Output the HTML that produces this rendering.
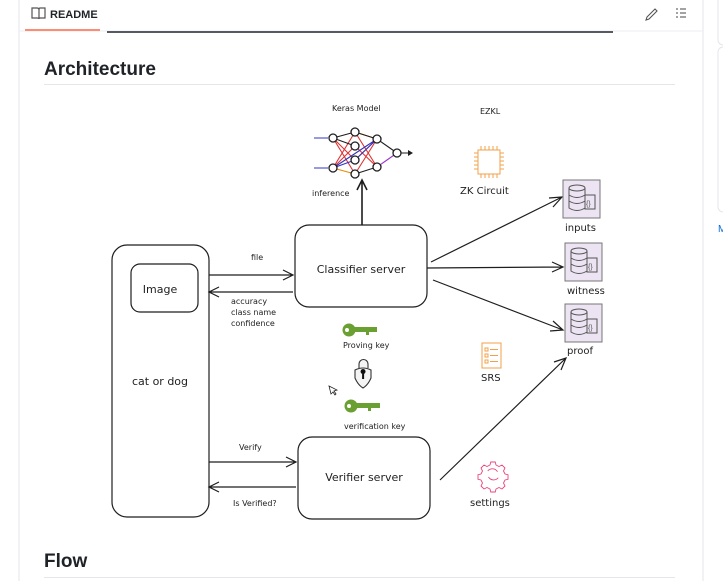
<!DOCTYPE html>
<html><head><style>
html,body{margin:0;padding:0;background:#fff;width:723px;height:581px;overflow:hidden;font-family:"Liberation Sans",sans-serif}
svg{position:absolute;left:0;top:0}
.h{font-family:"Liberation Sans",sans-serif;font-weight:bold;fill:#1f2328}
.s{font-family:"Comic Sans MS","DejaVu Sans",sans-serif;fill:#1e1e1e}
</style></head><body>
<svg width="723" height="581" viewBox="0 0 723 581" xmlns="http://www.w3.org/2000/svg">
<rect x="19" y="-5" width="684" height="600" fill="#fff" stroke="#e4e6ea"/>
<line x1="19" y1="31" x2="703" y2="31" stroke="#eceef2"/>
<line x1="25" y1="30" x2="100" y2="30" stroke="#fd8c73" stroke-width="2"/>
<line x1="107" y1="32" x2="613" y2="32" stroke="#555a63" stroke-width="2"/>
<path d="M32 8h5q2 0 2 2v9q0-1-2-1h-5zM45 8h-5q-1 0-1 2v9q0-1 1-1h5z" fill="none" stroke="#555" stroke-width="1.2"/>
<text x="50" y="18" font-size="11" font-weight="bold" fill="#1f2328">README</text>
<path d="M647 17l8-8 2 2-8 8-3 1z" fill="none" stroke="#555" stroke-width="1.1"/>
<g stroke="#666" stroke-width="1.2"><line x1="676" y1="9" x2="678" y2="9"/><line x1="680" y1="9" x2="686" y2="9"/><line x1="676" y1="13" x2="678" y2="13"/><line x1="680" y1="13" x2="686" y2="13"/><line x1="676" y1="17" x2="678" y2="17"/><line x1="680" y1="17" x2="686" y2="17"/></g>
<rect x="718" y="-5" width="20" height="50" rx="5" fill="none" stroke="#e4e6ea"/>
<rect x="718" y="47" width="20" height="165" rx="5" fill="none" stroke="#e4e6ea"/>
<text x="718" y="232" font-size="10" fill="#0969da">M</text>
<text x="44" y="75" font-size="19" class="h">Architecture</text>
<line x1="44" y1="84.5" x2="675" y2="84.5" stroke="#e4e6ea"/>
<text x="44" y="567" font-size="19" class="h">Flow</text>
<line x1="44" y1="577.5" x2="675" y2="577.5" stroke="#e4e6ea"/>

<g fill="none" stroke="#1e1e1e" stroke-width="1.2">
<rect x="112" y="245" width="97" height="272" rx="15"/>
<rect x="131" y="264" width="67" height="48" rx="9"/>
<rect x="295" y="225" width="132" height="82" rx="14"/>
<rect x="298" y="437" width="132" height="82" rx="14"/>
<path d="M209 275H293M283 270l10 5-10 5"/>
<path d="M293 292H209M219 287l-10 5 10 5"/>
<path d="M209 462H296M286 457l10 5-10 5"/>
<path d="M296 487H209M219 482l-10 5 10 5"/>
<path d="M362 225V180M357 190l5-10 5 10" stroke-width="1.6"/>
<path d="M431 262L562 197M549 198l13-1-9 10"/>
<path d="M427 268L563 267M552 262l11 5-11 5"/>
<path d="M433 280L563 330M550 331l13-1-10-9"/>
<path d="M440 480L566 358M554 362l12-4-5 12"/>
</g>
<g class="s">
<text x="160" y="293" font-size="11" text-anchor="middle">Image</text>
<text x="160" y="385" font-size="11" text-anchor="middle">cat or dog</text>
<text x="361" y="273" font-size="11" text-anchor="middle">Classifier server</text>
<text x="364" y="481" font-size="11" text-anchor="middle">Verifier server</text>
<text x="251" y="260" font-size="8">file</text>
<text x="231" y="304" font-size="8">accuracy</text>
<text x="231" y="315" font-size="8">class name</text>
<text x="231" y="326" font-size="8">confidence</text>
<text x="239" y="450" font-size="8">Verify</text>
<text x="233" y="506" font-size="8">Is Verified?</text>
<text x="332" y="111" font-size="8">Keras Model</text>
<text x="312" y="196" font-size="8">inference</text>
<text x="480" y="114" font-size="8">EZKL</text>
<text x="460" y="194" font-size="10">ZK Circuit</text>
<text x="565" y="231" font-size="10">inputs</text>
<text x="567" y="294" font-size="10">witness</text>
<text x="567" y="354" font-size="10">proof</text>
<text x="343" y="348" font-size="8">Proving key</text>
<text x="344" y="429" font-size="8">verification key</text>
<text x="481" y="381" font-size="10">SRS</text>
<text x="470" y="506" font-size="10">settings</text>
</g>
<!-- NN -->
<g stroke-width="1.1">
<g stroke="#d33"><path d="M333 138L355 160M333 138L355 174M333 168L355 132M333 168L355 146M355 132L377 167M355 146L377 167M355 174L377 139M355 160L377 139"/></g>
<g stroke="#33b"><path d="M333 168L355 160M355 160L377 139M333 168L377 139"/></g>
<g stroke="#e80"><path d="M355 132L377 139M333 168L355 174"/></g>
<g stroke="#1e1e1e"><path d="M333 138L355 132M333 138L355 146M355 132L377 139M355 174L377 167M377 139L397 153M397 153H408"/></g>
<path d="M377 167L397 153" stroke="#93c"/>
<path d="M314 138H328M314 168H328" stroke="#33c"/>
<path d="M408 150l5 3-5 3z" fill="#1e1e1e"/>
<g fill="#fff" stroke="#1e1e1e" stroke-width="1.3">
<circle cx="333" cy="138" r="4"/><circle cx="333" cy="168" r="4"/>
<circle cx="355" cy="132" r="4"/><circle cx="355" cy="146" r="4"/><circle cx="355" cy="160" r="4"/><circle cx="355" cy="174" r="4"/>
<circle cx="377" cy="139" r="4"/><circle cx="377" cy="167" r="4"/><circle cx="397" cy="153" r="4"/>
</g></g>
<!-- chip -->
<g stroke="#f0a24a" fill="none" stroke-width="1"><rect x="478" y="150" width="22" height="24"/>
<path d="M481 146v4M485 146v4M489 146v4M493 146v4M497 146v4M481 174v4M485 174v4M489 174v4M493 174v4M497 174v4M474 153h4M474 157h4M474 161h4M474 165h4M474 169h4M500 153h4M500 157h4M500 161h4M500 165h4M500 169h4"/></g>
<!-- DB icons -->
<g id="db" fill="none" stroke="#555" stroke-width="1">
<rect x="563" y="180" width="37" height="38" fill="#ece3f3" stroke="#777"/>
<ellipse cx="577" cy="188" rx="8" ry="3"/><path d="M569 188v20q8 5 16 0v-20M569 195q8 5 16 0M569 201q8 5 16 0"/>
<rect x="585" y="195" width="10" height="14" fill="#ece3f3"/><text x="586" y="206" font-size="7" fill="#555" stroke="none">{}</text>
</g>
<use href="#db" x="2" y="63"/><use href="#db" x="2" y="124"/>
<!-- keys -->
<g fill="#6aa032"><circle cx="349" cy="330" r="6.5"/><rect x="353" y="327" width="24" height="5"/><rect x="366" y="332" width="3" height="3"/></g><circle cx="347" cy="330" r="2" fill="#fff"/>
<g fill="#6aa032"><circle cx="351" cy="406" r="6.5"/><rect x="355" y="403" width="25" height="5"/><rect x="368" y="408" width="3" height="3"/></g><circle cx="349" cy="406" r="2" fill="#fff"/>
<path d="M359 368v-4a4.5 4.5 0 0 1 9 0v4M355 370q8-4 16 0v8q-3 7-8 10q-5-3-8-10z" fill="#f4f4f4" stroke="#333" stroke-width="1.1"/>
<path d="M363 373a1.5 1.5 0 1 1 0.1 0v6" stroke="#111" stroke-width="2"/>
<path d="M329 386l2 8 2-2 2 3 1-1-2-3 3-1z" fill="#fff" stroke="#222" stroke-width="0.8"/>
<!-- SRS -->
<g fill="none" stroke="#f0a24a" stroke-width="1"><rect x="482" y="343" width="19" height="25"/>
<rect x="485" y="348" width="3" height="3"/><rect x="485" y="354" width="3" height="3"/><rect x="485" y="360" width="3" height="3"/>
<path d="M490 349.5h8M490 355.5h8M490 361.5h8"/></g>
<!-- gear -->
<g fill="none" stroke="#e8447a" stroke-width="1.2" transform="translate(493 477) scale(0.75) translate(-493 -482)">
<path d="M490 462h6l1 4 4 2 4-2 4 4-2 4 2 4 4 1v6l-4 1-2 4 2 4-4 4-4-2-4 2-1 4h-6l-1-4-4-2-4 2-4-4 2-4-2-4-4-1v-6l4-1 2-4-2-4 4-4 4 2 4-2z"/>
<path d="M486 474a8 8 0 0 1 13 1M500 483a8 8 0 0 1-13-1"/></g>
</svg>
</body></html>
